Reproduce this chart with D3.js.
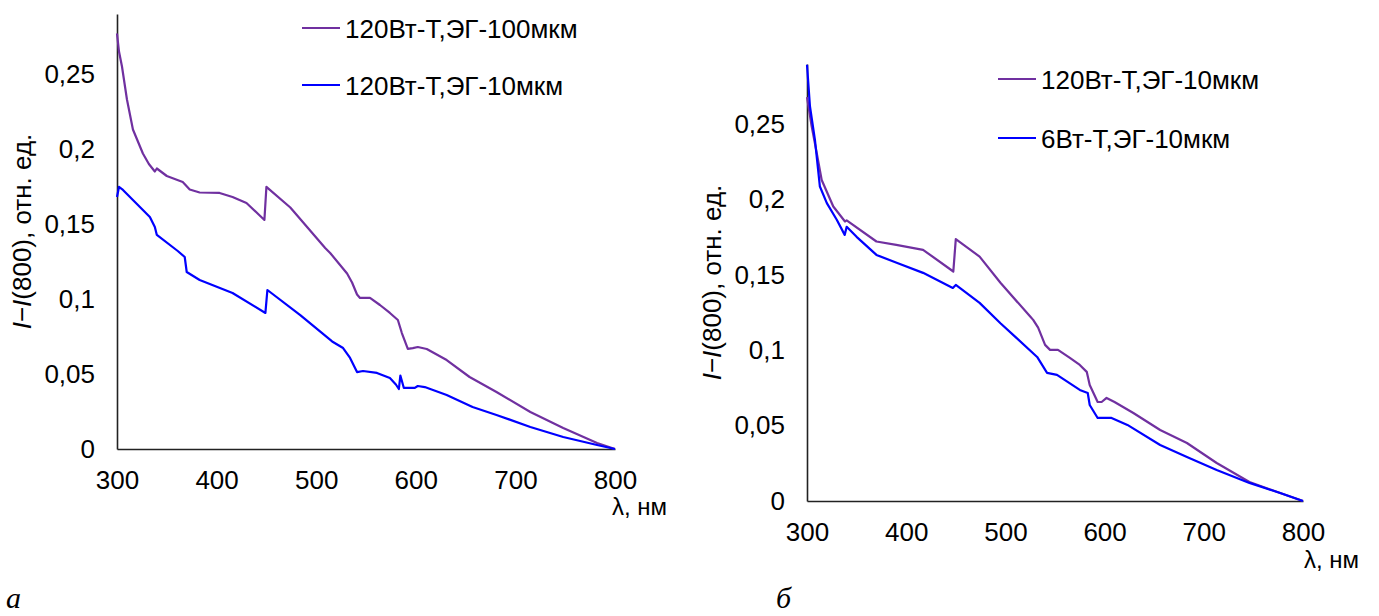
<!DOCTYPE html>
<html>
<head>
<meta charset="utf-8">
<script src="https://cdn.jsdelivr.net/npm/d3@7"></script>
<style>
  html, body { margin: 0; padding: 0; background: #fff; }
  svg { display: block; }
  text { font-family: "Liberation Sans", Arial, sans-serif; fill: #000; }
</style>
</head>
<body>
<svg id="chart" width="1379" height="616"></svg>
<script>
// ---------- DATA ----------
const xTicks = [300, 400, 500, 600, 700, 800];
const yTicks = [0, 0.05, 0.1, 0.15, 0.2, 0.25];
const yTickLabels = ["0", "0,05", "0,1", "0,15", "0,2", "0,25"];

const legendA = ["120Вт-Т,ЭГ-100мкм", "120Вт-Т,ЭГ-10мкм"];
const legendB = ["120Вт-Т,ЭГ-10мкм", "6Вт-Т,ЭГ-10мкм"];
const panelLabels = ["а", "б"];
const yAxisTitle = ["I", "−", "I", "(800), отн. ед."];
const xAxisTitle = "λ, нм";

// panel a, purple: 120Вт-Т,ЭГ-100мкм  [nm, value]
const seriesA1 = [
  [300,0.277],[302,0.265],[305,0.255],[310,0.233],[316,0.213],[326,0.197],[332,0.190],
  [338,0.185],[340,0.187],[350,0.182],[366,0.178],[373,0.173],[383,0.171],[403,0.1707],
  [416,0.168],[430,0.164],[448,0.1527],[450,0.1747],[474,0.161],[509,0.134],[514,0.1307],
  [531,0.117],[536,0.111],[541,0.103],[544,0.1007],[554,0.1007],[564,0.096],[574,0.0907],
  [582,0.086],[586,0.0773],[592,0.0667],[597,0.0673],[602,0.068],[611,0.0667],[631,0.0593],
  [654,0.048],[681,0.038],[715,0.0247],[748,0.014],[782,0.004],[800,0]
];
// panel a, blue: 120Вт-Т,ЭГ-10мкм
const seriesA2 = [
  [300,0.168],[302,0.1747],[306,0.1727],[316,0.166],[333,0.1547],[338,0.148],[340,0.1427],
  [361,0.132],[368,0.128],[370,0.118],[383,0.1127],[416,0.104],[449,0.0907],[451,0.106],
  [484,0.0893],[516,0.0717],[527,0.0673],[534,0.0607],[541,0.0513],[547,0.052],[561,0.0507],
  [574,0.0473],[580,0.043],[583,0.040],[584.5,0.049],[588,0.0407],[599,0.0407],[602,0.042],
  [609,0.0413],[631,0.036],[657,0.028],[681,0.0227],[715,0.0147],[748,0.008],[782,0.0027],[800,0]
];
// panel б, purple: 120Вт-Т,ЭГ-10мкм
const seriesB1 = [
  [300,0.268],[304.7,0.2486],[309.8,0.231],[314.8,0.213],[326.5,0.1954],[338.3,0.1855],
  [340,0.1862],[370,0.1722],[390,0.170],[417,0.1667],[447.5,0.1523],[450,0.1738],[474,0.1622],
  [495,0.1448],[525,0.1224],[528,0.1202],[533,0.115],[540,0.1036],[545,0.1003],[553,0.1003],
  [565,0.095],[575,0.0903],[582,0.0857],[585,0.077],[593,0.0657],[597,0.0657],[602,0.0684],
  [610,0.0657],[629,0.0584],[656,0.0471],[683,0.0385],[713,0.0252],[746,0.0126],[777,0.0053],[800,0]
];
// panel б, blue: 6Вт-Т,ЭГ-10мкм
const seriesB2 = [
  [300,0.2895],[303,0.2618],[308,0.2397],[313,0.2087],[320,0.1977],[330,0.1866],[338,0.1766],
  [340,0.182],[350,0.1753],[370,0.1633],[391,0.158],[417,0.1514],[447,0.1414],[450,0.1434],
  [474,0.1315],[495,0.118],[510,0.1089],[532,0.0956],[542,0.085],[552,0.0837],[575,0.0737],
  [583,0.0717],[585,0.0637],[593,0.0551],[607,0.0551],[623,0.0505],[656,0.0372],[683,0.0292],
  [713,0.0206],[746,0.012],[777,0.0053],[800,0]
];

// ---------- DRAW ----------
const svg = d3.select("#chart");
const PURPLE = "#7030A0", BLUE = "#0000FF";
const FONT = 26;

const panels = [
  { x0: 117, x1: 615, y0: 449, y1: 14,  series: [seriesA1, seriesA2], legend: legendA,
    legX: 302, legY: [28, 85], titleX: 31, xTitle: [612, 515], label: [6, 608] },
  { x0: 807, x1: 1303, y0: 501, y1: 64, series: [seriesB1, seriesB2], legend: legendB,
    legX: 998, legY: [79, 138], titleX: 721, xTitle: [1304, 568], label: [776, 608] }
];

panels.forEach(p => {
  const g = svg.append("g");
  const x = d3.scaleLinear().domain([300, 800]).range([p.x0, p.x1]);
  const y = d3.scaleLinear().domain([0, 0.29]).range([p.y0, p.y1]);

  const xAxis = g.append("g").attr("transform", `translate(0,${p.y0})`)
    .call(d3.axisBottom(x).tickValues(xTicks).tickSize(0).tickSizeOuter(0).tickPadding(22)
      .tickFormat(d3.format("d")));
  const yAxis = g.append("g").attr("transform", `translate(${p.x0},0)`)
    .call(d3.axisLeft(y).tickValues(yTicks).tickSize(0).tickSizeOuter(0).tickPadding(22)
      .tickFormat((d, i) => yTickLabels[i]));
  [xAxis, yAxis].forEach(a => {
    a.select(".domain").attr("stroke", "#222").attr("stroke-width", 1.6);
    a.selectAll("text").style("font-size", FONT + "px").style("font-family", '"Liberation Sans", Arial, sans-serif').attr("fill", "#000");
  });

  const line = d3.line().x(d => x(d[0])).y(d => y(d[1]));
  const colors = [PURPLE, BLUE];
  p.series.forEach((s, i) => {
    g.append("path").datum(s).attr("d", line)
      .attr("fill", "none").attr("stroke", colors[i]).attr("stroke-width", 2.2)
      .attr("stroke-linejoin", "round");
  });

  // legend
  p.legend.forEach((t, i) => {
    g.append("line").attr("x1", p.legX).attr("x2", p.legX + 38)
      .attr("y1", p.legY[i]).attr("y2", p.legY[i])
      .attr("stroke", colors[i]).attr("stroke-width", 2.2);
    g.append("text").attr("x", p.legX + 43).attr("y", p.legY[i] + 9.5)
      .style("font-size", FONT + "px").text(t);
  });

  // y title
  const yt = g.append("text")
    .attr("transform", `translate(${p.titleX},${(p.y0 + p.y1) / 2}) rotate(-90)`)
    .attr("text-anchor", "middle").style("font-size", FONT + "px");
  yAxisTitle.forEach((t, i) => {
    const ts = yt.append("tspan").text(t);
    if (t === "I") ts.style("font-style", "italic");
  });

  // x title
  g.append("text").attr("x", p.xTitle[0]).attr("y", p.xTitle[1])
    .style("font-size", "24px").text(xAxisTitle);
});

// panel labels
panels.forEach((p, i) => {
  svg.append("text").attr("x", p.label[0]).attr("y", p.label[1])
    .style("font-family", '"Liberation Serif", "Times New Roman", serif')
    .style("font-style", "italic").style("font-size", "30px").text(panelLabels[i]);
});
</script>
</body>
</html>
